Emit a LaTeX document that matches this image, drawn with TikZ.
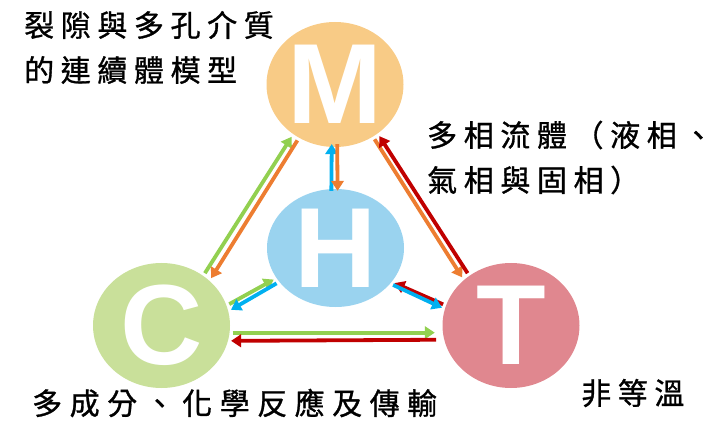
\documentclass[tikz,border=0pt]{standalone}
\usepackage{fontspec}
\setsansfont{Liberation Sans}
\newfontfamily\cjk[LetterSpace=22,FakeBold=1]{Noto Sans CJK TC}
\newfontfamily\cjkwide[LetterSpace=25,FakeBold=1]{Noto Sans CJK TC}
\usetikzlibrary{shapes.geometric,arrows.meta}
\definecolor{mfill}{HTML}{F8CB86}
\definecolor{hfill}{HTML}{9AD3EF}
\definecolor{cfill}{HTML}{C9E09A}
\definecolor{tfill}{HTML}{E0878F}
\definecolor{arrgreen}{HTML}{92D050}
\definecolor{arrorange}{HTML}{ED7D31}
\definecolor{arrblue}{HTML}{00B0F0}
\definecolor{arrred}{HTML}{C00000}
\tikzset{
    ball/.style={ellipse,minimum width=137pt,minimum height=125pt,inner sep=0pt,
        text=white,font=\fontsize{114}{114}\selectfont\sffamily\bfseries},
    link/.style={line width=3.8pt,-{Triangle[length=10pt,width=12.5pt]},
        shorten <=3pt,shorten >=3pt},
    lbl/.style={anchor=west,inner sep=0pt,align=left,
        font=\fontsize{30}{45}\selectfont\cjk},
}

\begin{document}
\begin{tikzpicture}[x=1pt,y=-1pt]
\useasboundingbox (0,0) rectangle (715,422);
\node[ball,fill=mfill] (m) at (335,84.5) {M};
\node[ball,fill=hfill,minimum height=118pt] (h) at (335.5,248) {H};
\node[ball,fill=cfill] (c) at (161.5,325.5) {C};
\node[ball,fill=tfill] (t) at (511,325.5) {T};
\draw[link,arrgreen] (c.50) -- (m.230);
\draw[link,arrorange] (m.236) -- (c.43);
\draw[link,arrblue,shorten >=-3pt,shorten <=-2pt] (h.94) -- (m.267);
\draw[link,arrorange,shorten <=-3pt,shorten >=-2pt] (m.272) -- (h.88);
\draw[link,arrorange] (m.306) -- (t.136);
\draw[link,arrred] (t.130) -- (m.311);
\draw[link,arrgreen] (c.17) -- (h.207);
\draw[link,arrblue] (h.211) -- (c.12);
\draw[link,arrred] (t.163) -- (h.329);
\draw[link,arrblue] (h.327) -- (t.166);
\draw[link,arrgreen,shorten >=8pt] (c.354) -- (t.186);
\draw[link,arrred,shorten <=8pt] (t.192) -- (c.347);
\node[lbl] (mtext) at (24,47.5) {裂隙與多孔介質\\的連續體模型};
\node[lbl] (htext) at (427,157.5) {多相流體（液相、\\氣相與固相）};
\node[lbl,font=\fontsize{30}{45}\selectfont\cjkwide] (ctext) at (32,403) {多成分、化學反應及傳輸};
\node[lbl] (ttext) at (581,393) {非等溫};
\end{tikzpicture}
\end{document}
